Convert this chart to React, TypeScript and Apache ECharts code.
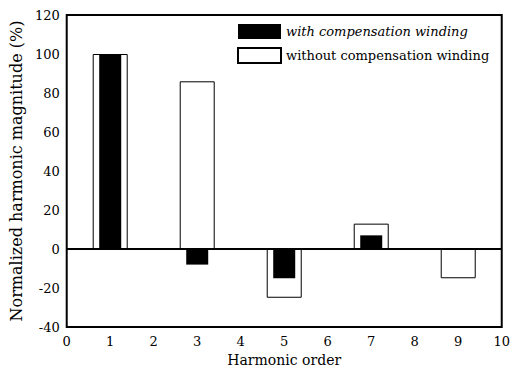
import React, { useEffect, useRef } from "react";
import * as echarts from "echarts";

const harmonicOrders = [1, 3, 5, 7];
const withCompensation = [100, -8, -15, 7];
const withoutOrders = [1, 3, 5, 7, 9];
const withoutCompensation = [100, 86, -25, 13, -15];
const seriesNames = ["with compensation winding", "without compensation winding"];

const FONT = "DejaVu Serif";

export default function App() {
  const ref = useRef<HTMLDivElement>(null);
  useEffect(() => {
    if (!ref.current) return;
    const chart = echarts.init(ref.current, undefined, { renderer: "svg" });
    const xBase = {
      type: "value" as const,
      min: 0,
      max: 10,
      interval: 1,
      splitLine: { show: false },
      axisTick: { show: false },
    };
    chart.setOption({
      animation: false,
      backgroundColor: "#ffffff",
      textStyle: { fontFamily: FONT, color: "#000" },
      grid: {
        left: 66,
        right: 11,
        top: 15,
        bottom: 43,
        show: true,
        borderColor: "#000",
        borderWidth: 2,
        backgroundColor: "transparent",
      },
      legend: {
        orient: "vertical",
        left: 237,
        top: 24,
        padding: 0,
        itemGap: 8,
        itemWidth: 43,
        itemHeight: 15,
        icon: "rect",
        data: seriesNames,
        formatter: (name: string) =>
          name === seriesNames[0] ? `{i|${name}}` : `{n|${name}}`,
        textStyle: {
          fontFamily: FONT,
          color: "#000",
          fontSize: 13,
          rich: {
            i: { fontStyle: "italic", fontFamily: FONT, fontSize: 13, color: "#000" },
            n: { fontFamily: FONT, fontSize: 13, color: "#000" },
          },
        },
      },
      xAxis: [
        {
          ...xBase,
          position: "bottom",
          name: "Harmonic order",
          nameLocation: "middle",
          nameGap: 26,
          nameTextStyle: { fontFamily: FONT, fontSize: 14, color: "#000" },
          axisLine: { show: false, onZero: false },
          axisLabel: { fontFamily: FONT, fontSize: 13, color: "#000", margin: 8 },
        },
        {
          ...xBase,
          show: false,
          axisLine: { show: false, onZero: false },
        },
      ],
      yAxis: {
        type: "value",
        min: -40,
        max: 120,
        interval: 20,
        name: "Normalized harmonic magnitude (%)",
        nameLocation: "middle",
        nameGap: 38,
        nameTextStyle: { fontFamily: FONT, fontSize: 16, color: "#000" },
        splitLine: { show: false },
        axisTick: { show: false },
        axisLine: { show: false },
        axisLabel: { fontFamily: FONT, fontSize: 13, color: "#000", margin: 7 },
      },
      series: [
        {
          name: seriesNames[1],
          type: "bar",
          xAxisIndex: 0,
          barWidth: 35,
          itemStyle: { color: "#ffffff", borderColor: "#000", borderWidth: 1 },
          data: withoutOrders.map((x, i) => [x, withoutCompensation[i]]),
          markLine: {
            silent: true,
            symbol: "none",
            label: { show: false },
            lineStyle: { color: "#000", width: 2, type: "solid" },
            data: [{ yAxis: 0 }],
          },
          z: 2,
        },
        {
          name: seriesNames[0],
          type: "bar",
          xAxisIndex: 1,
          barWidth: 22,
          itemStyle: { color: "#000000", borderColor: "#000", borderWidth: 0 },
          data: harmonicOrders.map((x, i) => [x, withCompensation[i]]),
          z: 3,
        },
      ],
    });
    return () => chart.dispose();
  }, []);
  return (
    <div
      ref={ref}
      style={{ position: "absolute", left: 0, top: 0, width: 513, height: 372 }}
    />
  );
}
